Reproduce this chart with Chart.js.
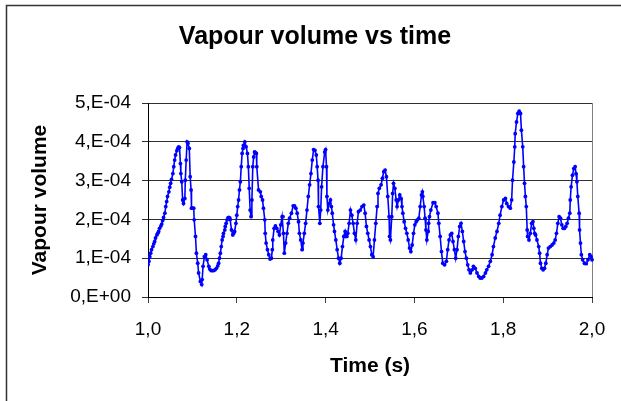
<!DOCTYPE html>
<html>
<head>
<meta charset="utf-8">
<title>Vapour volume vs time</title>
<script src="https://cdn.jsdelivr.net/npm/chart.js@4.4.1/dist/chart.umd.min.js"></script>
<style>
	body { margin: 0; background: #ffffff; }
	#myCanvas { display: block; }
</style>
</head>
<body>
<canvas id="myCanvas" width="621" height="401"></canvas>
<script>

// Time (s)
var times = [
	1.000, 1.002, 1.004, 1.006, 1.008, 1.011, 1.013, 1.015, 1.017, 1.020,
	1.022, 1.024, 1.026, 1.029, 1.031, 1.033, 1.035, 1.038, 1.040, 1.042,
	1.044, 1.047, 1.049, 1.051, 1.053, 1.056, 1.058, 1.060, 1.062, 1.065,
	1.067, 1.069, 1.071, 1.073, 1.074, 1.076, 1.078, 1.080, 1.083, 1.084,
	1.086, 1.088, 1.090, 1.093, 1.095, 1.097, 1.098, 1.100, 1.103, 1.104,
	1.107, 1.109, 1.112, 1.114, 1.118, 1.121, 1.122, 1.124, 1.127, 1.130,
	1.133, 1.137, 1.139, 1.142, 1.145, 1.148, 1.151, 1.154, 1.157, 1.159,
	1.161, 1.163, 1.165, 1.167, 1.169, 1.170, 1.173, 1.174, 1.176, 1.178,
	1.180, 1.182, 1.184, 1.185, 1.188, 1.191, 1.193, 1.195, 1.198, 1.200,
	1.202, 1.204, 1.206, 1.208, 1.210, 1.212, 1.214, 1.215, 1.218, 1.221,
	1.224, 1.226, 1.228, 1.230, 1.232, 1.234, 1.236, 1.238, 1.240, 1.242,
	1.244, 1.245,
	1.249, 1.253, 1.255, 1.258, 1.260, 1.263, 1.264, 1.266, 1.269, 1.272,
	1.275, 1.278, 1.280, 1.281, 1.284, 1.287, 1.290, 1.293, 1.296, 1.299,
	1.302, 1.304, 1.305, 1.307, 1.310, 1.313, 1.316, 1.319, 1.323, 1.327,
	1.330, 1.333, 1.336, 1.339, 1.341, 1.344, 1.347, 1.349, 1.352, 1.355,
	1.358, 1.361, 1.364, 1.367, 1.370, 1.373, 1.376, 1.379, 1.381, 1.383,
	1.384, 1.387, 1.389, 1.391, 1.394, 1.398, 1.400, 1.402, 1.403, 1.405,
	1.408, 1.411, 1.413, 1.415, 1.418, 1.420, 1.423, 1.426, 1.429, 1.432,
	1.435, 1.438, 1.441, 1.444, 1.446, 1.448, 1.450, 1.453, 1.456, 1.459,
	1.462, 1.465, 1.468, 1.471, 1.474, 1.478,
	1.482, 1.486, 1.489, 1.492, 1.495, 1.498, 1.501, 1.504, 1.507, 1.510,
	1.513, 1.516, 1.518, 1.521, 1.525, 1.528, 1.531, 1.534, 1.537, 1.540,
	1.543, 1.544, 1.546, 1.549, 1.551, 1.553, 1.556, 1.559, 1.561, 1.564,
	1.567, 1.570, 1.572, 1.574, 1.577, 1.580, 1.583, 1.586, 1.589, 1.592,
	1.595, 1.598, 1.601, 1.604, 1.607, 1.610, 1.613, 1.616, 1.618, 1.619,
	1.622, 1.624, 1.626, 1.628, 1.631, 1.632, 1.634, 1.637, 1.642, 1.646,
	1.649, 1.653, 1.655, 1.658, 1.661, 1.664, 1.668, 1.672, 1.675, 1.678,
	1.681, 1.684, 1.687, 1.690, 1.693, 1.696, 1.699, 1.702, 1.705, 1.708,
	1.711, 1.714, 1.717, 1.720, 1.723, 1.726,
	1.730, 1.733, 1.737, 1.741, 1.745, 1.748, 1.752, 1.756, 1.760, 1.763,
	1.767, 1.771, 1.775, 1.778, 1.782, 1.786, 1.790, 1.793, 1.797, 1.801,
	1.805, 1.808, 1.812, 1.816, 1.819, 1.821, 1.824, 1.826, 1.827, 1.830,
	1.833, 1.836, 1.839, 1.841, 1.844, 1.846, 1.848, 1.850, 1.852, 1.854,
	1.855, 1.858, 1.861, 1.864, 1.867, 1.869, 1.871, 1.873, 1.876, 1.880,
	1.882, 1.884, 1.887, 1.890, 1.893, 1.896, 1.899, 1.902, 1.906, 1.910,
	1.914, 1.917, 1.920, 1.923, 1.926, 1.929, 1.932, 1.935, 1.938, 1.941,
	1.944, 1.947, 1.950, 1.951, 1.953, 1.956, 1.959, 1.962, 1.964, 1.966,
	1.968, 1.971, 1.972, 1.974, 1.976, 1.979, 1.983, 1.987, 1.991, 1.995,
	1.998, 2.000, 2.004
];

// Vapour volume, in units of 1E-04
var volumeE4 = [
	0.83, 0.92, 1.04, 1.13, 1.22, 1.30, 1.37, 1.43, 1.52, 1.60,
	1.64, 1.69, 1.77, 1.83, 1.88, 1.97, 2.05, 2.16, 2.33, 2.46,
	2.59, 2.71, 2.83, 2.93, 3.03, 3.18, 3.36, 3.53, 3.66, 3.77,
	3.83, 3.87, 3.85, 3.44, 3.18, 2.97, 2.50, 2.41, 2.54, 3.01,
	3.53, 4.00, 3.96, 3.83, 3.10, 2.76, 2.29, 2.29, 2.29, 1.99,
	1.56, 1.13, 0.87, 0.62, 0.40, 0.32, 0.45, 0.79, 1.04, 1.09,
	0.96, 0.79, 0.72, 0.68, 0.68, 0.68, 0.70, 0.74, 0.80, 0.87,
	1.00, 1.13, 1.30, 1.47, 1.56, 1.64, 1.73, 1.82, 1.90, 1.99,
	2.04, 2.05, 2.04, 2.00, 1.73, 1.60, 1.64, 1.69, 1.90, 2.11,
	2.33, 2.50, 2.76, 2.97, 3.36, 3.70, 3.83, 3.91, 4.00, 3.87,
	3.70, 3.36, 2.80, 2.24, 2.07, 2.50, 3.36, 3.61, 3.74, 3.72,
	3.70, 3.36,
	2.76, 2.71, 2.59, 2.50, 2.29, 1.99, 1.64, 1.39, 1.22, 1.09,
	0.98, 1.00, 1.22, 1.47, 1.77, 1.83, 1.77, 1.69, 1.60, 1.86,
	2.07, 2.07, 1.64, 1.13, 1.39, 1.64, 1.90, 2.03, 2.16, 2.35,
	2.35, 2.29, 2.16, 1.94, 1.64, 1.47, 1.22, 1.39, 1.64, 1.90,
	2.24, 2.59, 2.89, 3.18, 3.53, 3.80, 3.78, 3.66, 3.36, 3.01,
	2.33, 1.90, 2.24, 2.84, 3.36, 3.74, 3.80, 3.36, 2.59, 2.24,
	2.41, 2.50, 2.33, 2.16, 1.86, 1.69, 1.47, 1.22, 1.00, 0.87,
	1.00, 1.30, 1.56, 1.69, 1.56, 1.56, 1.64, 1.90, 2.24, 2.11,
	1.90, 1.64, 1.47, 1.90, 2.20, 2.24,
	2.33, 2.37, 2.16, 1.82, 1.64, 1.47, 1.30, 1.09, 1.04, 1.47,
	1.90, 2.33, 2.67, 2.80, 2.89, 3.06, 3.23, 3.27, 3.10, 2.59,
	2.07, 1.56, 1.47, 2.07, 2.67, 2.93, 2.80, 2.50, 2.33, 2.50,
	2.63, 2.54, 2.33, 2.16, 1.94, 1.77, 1.64, 1.47, 1.26, 1.17,
	1.34, 1.64, 1.86, 1.94, 1.99, 2.03, 2.33, 2.63, 2.71, 2.59,
	2.33, 2.03, 1.73, 1.47, 1.69, 1.90, 2.07, 2.24, 2.43, 2.43,
	2.33, 2.16, 1.90, 1.56, 1.17, 0.87, 0.83, 0.92, 1.22, 1.47,
	1.60, 1.64, 1.43, 1.22, 1.00, 1.22, 1.56, 1.82, 1.90, 1.69,
	1.43, 1.17, 1.00, 0.83, 0.70, 0.62,
	0.70, 0.79, 0.74, 0.62, 0.53, 0.49, 0.49, 0.53, 0.62, 0.70,
	0.79, 0.92, 1.09, 1.30, 1.52, 1.69, 1.90, 2.11, 2.33, 2.50,
	2.54, 2.41, 2.33, 2.29, 2.50, 3.01, 3.48, 3.87, 4.21, 4.51,
	4.73, 4.79, 4.73, 4.30, 3.87, 3.36, 2.93, 2.59, 2.33, 1.73,
	1.56, 1.47, 1.64, 1.90, 1.94, 1.77, 1.64, 1.60, 1.47, 1.30,
	1.13, 0.87, 0.74, 0.70, 0.74, 0.87, 1.09, 1.26, 1.30, 1.34,
	1.39, 1.47, 1.64, 1.90, 2.07, 2.03, 1.86, 1.77, 1.77, 1.82,
	1.90, 2.03, 2.16, 2.50, 2.84, 3.14, 3.31, 3.36, 3.18, 2.97,
	2.59, 2.16, 1.73, 1.39, 1.09, 0.96, 0.87, 0.86, 0.96, 1.09,
	1.04, 0.96, 0.96
];

// axis tick labels as they are written on the chart
var xTickLabels = ['1,0', '1,2', '1,4', '1,6', '1,8', '2,0'];
var yTickLabels = ['0,E+00', '1,E-04', '2,E-04', '3,E-04', '4,E-04', '5,E-04'];

var points = [];
for (var i = 0; i < times.length; i++) {
	points.push({ x: times[i], y: volumeE4[i] * 1e-4 });
}

// white background, the outer frame and the grey right edge of the plot area
var framePlugin = {
	id: 'frame',
	beforeDraw: function(chart) {
		var ctx = chart.ctx;
		ctx.save();
		ctx.fillStyle = '#ffffff';
		ctx.fillRect(0, 0, chart.width, chart.height);
		ctx.strokeStyle = '#333333';
		ctx.lineWidth = 1.5;
		ctx.beginPath();
		ctx.moveTo(6.5, chart.height);
		ctx.lineTo(6.5, 5.5);
		ctx.lineTo(chart.width, 5.5);
		ctx.stroke();
		ctx.restore();
	},
	beforeDatasetsDraw: function(chart) {
		var a = chart.chartArea;
		var ctx = chart.ctx;
		ctx.save();
		ctx.strokeStyle = '#808080';
		ctx.lineWidth = 1;
		ctx.beginPath();
		ctx.moveTo(Math.round(a.right) + 0.5, a.top);
		ctx.lineTo(Math.round(a.right) + 0.5, a.bottom);
		ctx.stroke();
		ctx.restore();
	}
};

var font = 'Liberation Sans, Arial, sans-serif';

var ctx = document.getElementById('myCanvas').getContext('2d');
var myChart = new Chart(ctx, {
	type: 'line',
	data: {
		datasets: [{
			label: 'Vapour volume',
			data: points,
			borderColor: '#0000ff',
			backgroundColor: '#0000ff',
			borderWidth: 1.6,
			pointStyle: 'circle',
			pointRadius: 1.9,
			pointBorderWidth: 0,
			tension: 0,
			clip: { left: 0, top: 0, right: 6, bottom: 0 }
		}]
	},
	options: {
		responsive: false,
		animation: false,
		devicePixelRatio: 1,
		layout: {
			padding: { left: 38, right: 29, top: 0, bottom: 0 }
		},
		plugins: {
			legend: { display: false },
			tooltip: { enabled: false },
			title: {
				display: true,
				text: 'Vapour volume vs time',
				color: '#000000',
				font: { family: font, size: 25, weight: 'bold' },
				padding: { top: 22, bottom: 51 }
			}
		},
		scales: {
			x: {
				type: 'linear',
				min: 1,
				max: 2,
				afterFit: function(scale) { scale.height = 104; },
				ticks: {
					stepSize: 0.2,
					color: '#000000',
					font: { family: font, size: 19 },
					padding: 15,
					maxRotation: 0,
					callback: function(value, index) { return xTickLabels[index]; }
				},
				grid: {
					drawOnChartArea: false,
					drawTicks: true,
					tickLength: 6,
					color: '#404040'
				},
				border: { color: '#000000', width: 1 },
				title: {
					display: true,
					text: 'Time (s)',
					color: '#000000',
					font: { family: font, size: 21, weight: 'bold' },
					padding: { top: 0, bottom: 22 }
				}
			},
			y: {
				min: 0,
				max: 5e-4,
				afterFit: function(scale) { scale.width = 110; },
				ticks: {
					stepSize: 1e-4,
					color: '#000000',
					font: { family: font, size: 19 },
					padding: 11,
					callback: function(value, index) { return yTickLabels[index]; }
				},
				grid: {
					drawTicks: true,
					tickLength: 6,
					color: '#303030'
				},
				border: { color: '#000000', width: 1 },
				title: {
					display: true,
					text: 'Vapour volume',
					color: '#000000',
					font: { family: font, size: 21, weight: 'bold' },
					padding: { top: -10, bottom: 0 }
				}
			}
		}
	},
	plugins: [framePlugin]
});

</script>
</body>
</html>
